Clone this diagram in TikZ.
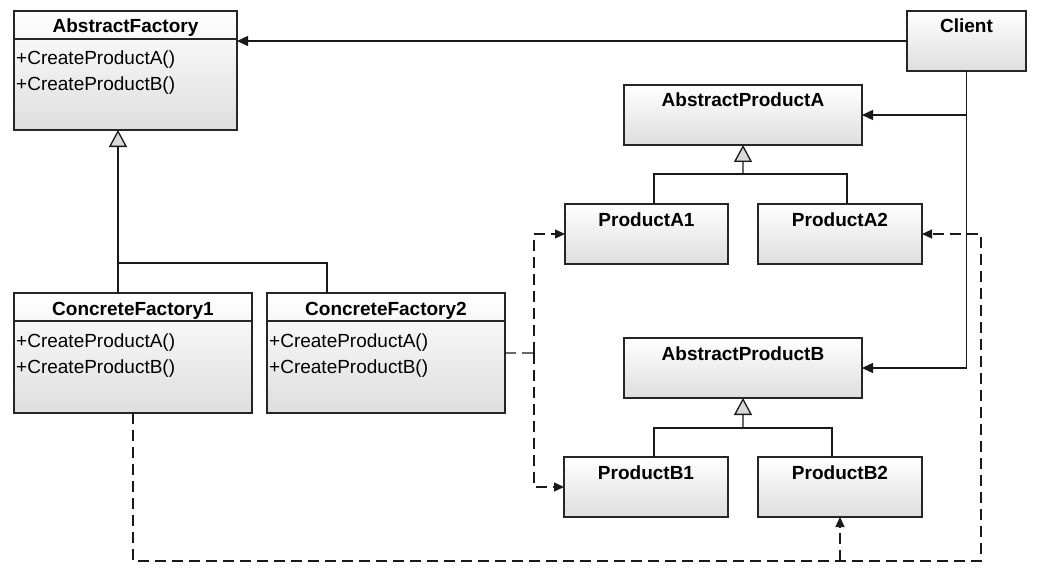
\documentclass[tikz,border=0pt]{standalone}
\usepackage{fontspec}
\setmainfont{Liberation Sans}
\usetikzlibrary{arrows.meta}
\newcommand\titlefont{\fontsize{19bp}{22bp}\selectfont\bfseries}
\newcommand\methodfont{\fontsize{19bp}{22bp}\selectfont}
\begin{document}
\begin{tikzpicture}[
  x=1bp, y=-1bp,
  box/.style={draw=black!85, line width=1.3bp, top color=white, bottom color=black!13, inner sep=0pt, outer sep=0pt, anchor=north west},
  head/.style={font=\titlefont, anchor=base, inner sep=0pt},
  op/.style={font=\methodfont, anchor=base west, inner sep=0pt},
  sep/.style={draw=black!85, line width=1.3bp},
  link/.style={draw=black!90, line width=1.3bp},
  assoc/.style={link, -{Triangle[length=11bp, width=10bp]}},
  dep/.style={link, dash pattern=on 11bp off 6bp, -{Triangle[length=10bp, width=9bp]}},
  gen/.style={link, -{Triangle[length=17bp, width=18bp, fill=black!15]}}
]
\fill[white] (0,0) rectangle (1040,577);
\useasboundingbox (0,0) rectangle (1040,577);

% factories
\node[box, minimum width=223bp, minimum height=119bp] (af) at (14,11) {};
\node[head] at ([yshift=-22bp]af.north) {AbstractFactory};
\draw[sep] ([yshift=-28bp]af.north west) -- ([yshift=-28bp]af.north east);
\node[op] at ([xshift=2bp, yshift=-54bp]af.north west) {+CreateProductA()};
\node[op] at ([xshift=2bp, yshift=-80bp]af.north west) {+CreateProductB()};

\node[box, minimum width=238bp, minimum height=120bp] (cf1) at (14,293) {};
\node[head] at ([yshift=-22bp]cf1.north) {ConcreteFactory1};
\draw[sep] ([yshift=-28bp]cf1.north west) -- ([yshift=-28bp]cf1.north east);
\node[op] at ([xshift=2bp, yshift=-54bp]cf1.north west) {+CreateProductA()};
\node[op] at ([xshift=2bp, yshift=-80bp]cf1.north west) {+CreateProductB()};

\node[box, minimum width=238bp, minimum height=120bp] (cf2) at (267,293) {};
\node[head] at ([yshift=-22bp]cf2.north) {ConcreteFactory2};
\draw[sep] ([yshift=-28bp]cf2.north west) -- ([yshift=-28bp]cf2.north east);
\node[op] at ([xshift=2bp, yshift=-54bp]cf2.north west) {+CreateProductA()};
\node[op] at ([xshift=2bp, yshift=-80bp]cf2.north west) {+CreateProductB()};

% client and products
\node[box, minimum width=119bp, minimum height=60bp] (client) at (907,11) {};
\node[head] at ([yshift=-22bp]client.north) {Client};

\node[box, minimum width=238bp, minimum height=60bp] (apa) at (624,85) {};
\node[head] at ([yshift=-22bp]apa.north) {AbstractProductA};
\node[box, minimum width=163bp, minimum height=60bp] (pa1) at (565,204) {};
\node[head] at ([yshift=-22bp]pa1.north) {ProductA1};
\node[box, minimum width=164bp, minimum height=60bp] (pa2) at (758,204) {};
\node[head] at ([yshift=-22bp]pa2.north) {ProductA2};

\node[box, minimum width=238bp, minimum height=60bp] (apb) at (624,338) {};
\node[head] at ([yshift=-22bp]apb.north) {AbstractProductB};
\node[box, minimum width=164bp, minimum height=60bp] (pb1) at (564,457) {};
\node[head] at ([yshift=-22bp]pb1.north) {ProductB1};
\node[box, minimum width=164bp, minimum height=60bp] (pb2) at (758,457) {};
\node[head] at ([yshift=-22bp]pb2.north) {ProductB2};

% inheritance
\coordinate (afjoin) at (118,263);
\draw[gen] (cf1.north -| afjoin) -- (af.south -| afjoin);
\draw[link] (afjoin) -| ([xshift=60bp]cf2.north west);

\coordinate (ajoin) at (743,174);
\draw[gen] (ajoin) -- (apa.south);
\draw[link] ([xshift=89bp]pa1.north west) |- (ajoin) -| ([xshift=89bp]pa2.north west);

\coordinate (bjoin) at (743,428);
\draw[gen] (bjoin) -- (apb.south);
\draw[link] ([xshift=90bp]pb1.north west) |- (bjoin) -| ([xshift=74bp]pb2.north west);

% client uses
\draw[assoc] (client.west) -- (client.west -| af.east);
\draw[assoc] (client.south) |- (apa.east);
\draw[assoc] (client.south) |- (apb.east);

% creates
\coordinate (fork) at (534,353);
\coordinate (ring) at (981,561);
\draw[dep, -] (cf2.east) -- (fork);
\draw[dep] (fork) |- (pa1.west);
\draw[dep] (fork) |- (pb1.west);
\draw[dep] (cf1.south) |- (ring) |- (pa2.east);
\draw[dep] (pb2.south |- ring) -- (pb2.south);
\end{tikzpicture}
\end{document}
